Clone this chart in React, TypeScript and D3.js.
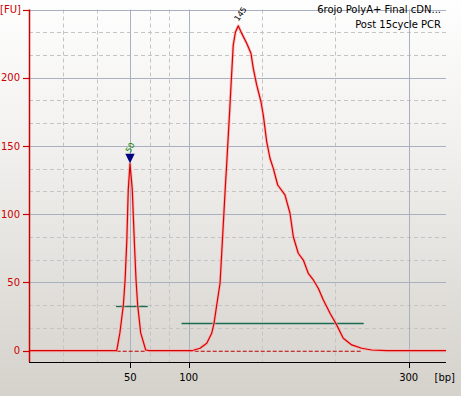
import React from 'react';
import * as d3 from 'd3';

// ---- data ----
const traceBp = [15, 44, 45.3, 46.4, 47.6, 48.2, 48.8, 49.3, 49.9, 51.7, 53.4, 54.9, 56.3, 58.9, 63.2, 66, 100, 104.2, 110.3, 116.4, 120.9, 123, 125.5, 128.5, 129.5, 132, 133.5, 134.5, 135.5, 137.2, 138.9, 140.5, 142.5, 145.1, 148.2, 152.7, 156.6, 158.7, 161.8, 165.7, 167.8, 170.9, 173.9, 176.9, 180.9, 187.5, 192.1, 195.1, 199.6, 204.2, 208.7, 213.3, 217.8, 222.4, 228.5, 234.5, 240.5, 248.2, 257.3, 266.4, 280, 334];
const traceFu = [0, 0, 0, 13, 33.5, 51.8, 81, 118, 137, 118, 81, 52, 33.5, 13, 0.5, 0, 0, 0.3, 1.8, 5.4, 12.7, 20, 33.5, 49.4, 64, 100.7, 122.9, 136, 150.7, 175, 200.7, 224, 233.5, 238, 232.5, 225.2, 217.9, 206.9, 194.7, 182.4, 172.7, 153.1, 141, 133.6, 121.4, 114.1, 100.7, 83.5, 71.4, 66.4, 56.7, 51.8, 45.7, 37.1, 27.4, 18.9, 9.1, 4.2, 1.8, 0.5, 0, 0];

const yTicks = [0, 50, 100, 150, 200];
const xTicks = [50, 100, 300];
const xBreaks = [15, 50, 100, 300, 334];

const peakBp = [49.9, 145.1];
const peakFu = [137, 238];
const peakLabels = ['50', '145'];

const regionStart = [45.1, 93.9];
const regionEnd = [64.9, 259.1];
const regionFu = [32.5, 20];

const baseStart = [45.3, 100];
const baseEnd = [63.2, 258];

const titleLines = ['6rojo PolyA+ Final cDN...', 'Post 15cycle PCR'];

// ---- layout ----
const W = 461, H = 396;
const left = 29, right = 446, top = 9.5, bottom = 362;
const FONT = 'DejaVu Sans, Verdana, sans-serif';

export default function App() {
  const x = d3.scaleLinear().domain(xBreaks).range([left, 130.3, 188.7, 408.7, right]);
  const y = d3.scaleLinear().domain([-8.3, 250]).range([bottom, top]);

  const minorX: number[] = [];
  for (let i = 0; i < 3; i++) {
    const a = xBreaks[i], b = xBreaks[i + 1];
    minorX.push(a + (b - a) / 3, a + (2 * (b - a)) / 3);
  }
  const majorY = [50, 100, 150, 200, 250];
  const minorY: number[] = [];
  for (let v = 0; v < 250; v += 50) minorY.push(v + 50 / 3, v + 100 / 3);

  const pts: [number, number][] = traceBp.map((b, i) => [b, traceFu[i]]);
  const line = d3.line<[number, number]>().x(d => x(d[0])).y(d => y(d[1])).curve(d3.curveLinear);
  const path = line(pts) || '';

  const p0x = x(peakBp[0]), p0y = y(peakFu[0]);
  const p1x = x(peakBp[1]), p1y = y(peakFu[1]);

  return (
    <svg width={W} height={H} style={{ position: 'absolute', left: 0, top: 0 }} fontFamily={FONT}>
      <defs>
        <linearGradient id="bg" x1="0" y1="0" x2="0" y2="1">
          <stop offset="0" stopColor="#fefefe" />
          <stop offset="0.35" stopColor="#f2f1ef" />
          <stop offset="1" stopColor="#d5d2cc" />
        </linearGradient>
      </defs>
      <rect x={0} y={0} width={W} height={H} fill="url(#bg)" />

      {/* grid */}
      {minorY.map((v, i) => (
        <line key={'my' + i} x1={left} x2={right} y1={Math.round(y(v)) + 0.5} y2={Math.round(y(v)) + 0.5} stroke="#c4c4c4" strokeDasharray="4,3" />
      ))}
      {minorX.map((v, i) => (
        <line key={'mx' + i} x1={Math.round(x(v)) + 0.5} x2={Math.round(x(v)) + 0.5} y1={top} y2={bottom} stroke="#c4c4c4" strokeDasharray="4,3" />
      ))}
      {majorY.map((v, i) => (
        <line key={'My' + i} x1={left} x2={right} y1={Math.round(y(v)) + 0.5} y2={Math.round(y(v)) + 0.5} stroke="#a9b0bf" />
      ))}
      {xTicks.map((v, i) => (
        <line key={'Mx' + i} x1={Math.round(x(v)) + 0.5} x2={Math.round(x(v)) + 0.5} y1={top} y2={bottom} stroke="#a9b0bf" />
      ))}

      {/* region bars */}
      {regionStart.map((s, i) => (
        <line key={'rg' + i} x1={x(s)} x2={x(regionEnd[i])} y1={Math.round(y(regionFu[i])) + 0.5} y2={Math.round(y(regionFu[i])) + 0.5} stroke="#1d6b52" strokeWidth={1.4} />
      ))}

      {/* dashed baselines */}
      {baseStart.map((s, i) => (
        <line key={'bl' + i} x1={x(s)} x2={x(baseEnd[i])} y1={y(0) + 0.6} y2={y(0) + 0.6} stroke="#c00000" strokeWidth={1.1} strokeDasharray="4,2" />
      ))}

      {/* trace */}
      <path d={path} fill="none" stroke="#f7a8a8" strokeWidth={3} strokeOpacity={0.7} strokeLinejoin="round" />
      <path d={path} fill="none" stroke="#d80000" strokeWidth={1.2} strokeLinejoin="round" />

      {/* y axis */}
      <line x1={left + 0.5} x2={left + 0.5} y1={top} y2={bottom} stroke="#cc0000" strokeWidth={1.5} />
      {[...yTicks, 250].map((v, i) => (
        <line key={'yt' + i} x1={left - 6} x2={left} y1={Math.round(y(v)) + 0.5} y2={Math.round(y(v)) + 0.5} stroke="#cc0000" strokeWidth={1.2} />
      ))}
      {yTicks.map((v, i) => (
        <text key={'yl' + i} x={left - 9} y={y(v)} dy="0.36em" textAnchor="end" fontSize={10} fill="#cc0000">{v}</text>
      ))}
      <text x={0} y={y(250)} dy="0.36em" fontSize={10} fill="#cc0000">[FU]</text>

      {/* x axis */}
      <line x1={left} x2={right} y1={bottom + 0.5} y2={bottom + 0.5} stroke="#000" />
      {xTicks.map((v, i) => (
        <g key={'xt' + i}>
          <line x1={Math.round(x(v)) + 0.5} x2={Math.round(x(v)) + 0.5} y1={bottom} y2={bottom + 6} stroke="#000" />
          <text x={x(v)} y={377} dy="0.36em" textAnchor="middle" fontSize={10} fill="#000">{v}</text>
        </g>
      ))}
      <text x={455} y={377} dy="0.36em" textAnchor="end" fontSize={10} fill="#000">[bp]</text>

      {/* peak markers */}
      <path d={`M${p0x - 4.7},${p0y - 10} L${p0x + 4.7},${p0y - 10} L${p0x},${p0y - 0.5} Z`} fill="#000080" />
      <text transform={`translate(${p0x},${p0y - 16}) rotate(-60)`} fontSize={8} fill="#008000" textAnchor="middle" dy="0.35em">{peakLabels[0]}</text>
      <text transform={`translate(${p1x + 2},${p1y - 12}) rotate(-55)`} fontSize={8} fill="#000" textAnchor="middle" dy="0.35em">{peakLabels[1]}</text>

      {/* title */}
      <text x={441} y={9} dy="0.36em" textAnchor="end" fontSize={10} fill="#000">{titleLines[0]}</text>
      <text x={441} y={24} dy="0.36em" textAnchor="end" fontSize={10} fill="#000">{titleLines[1]}</text>
    </svg>
  );
}
